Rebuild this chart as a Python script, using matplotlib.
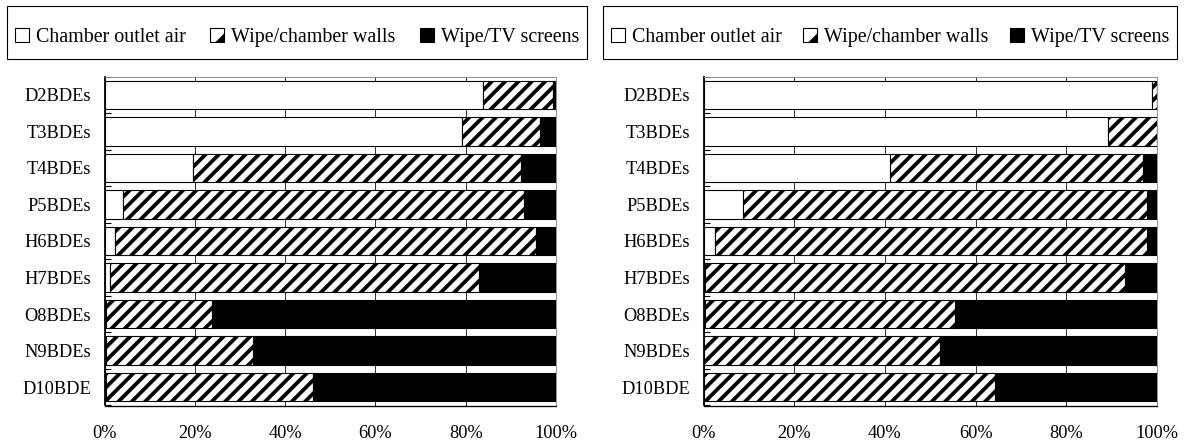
import numpy as np
import matplotlib.pyplot as plt
from matplotlib.patches import Patch, Rectangle, Polygon
from matplotlib.legend_handler import HandlerBase

plt.rcParams['font.family'] = ['Liberation Serif', 'DejaVu Serif']
plt.rcParams['hatch.linewidth'] = 3.4
plt.rcParams['hatch.color'] = 'black'

# データ (%)
categories = ['D2BDEs', 'T3BDEs', 'T4BDEs', 'P5BDEs', 'H6BDEs',
              'H7BDEs', 'O8BDEs', 'N9BDEs', 'D10BDE']
series_names = ['Chamber outlet air', 'Wipe/chamber walls', 'Wipe/TV screens']

left_air = [83.9, 79.2, 19.6, 4.2, 2.4, 1.3, 0.3, 0.3, 0.3]
left_walls = [15.4, 17.2, 72.6, 88.7, 93.2, 81.7, 23.4, 32.5, 45.9]
left_tv = [0.7, 3.6, 7.8, 7.1, 4.4, 17.0, 76.3, 67.2, 53.8]

right_air = [98.8, 89.2, 41.1, 8.8, 2.6, 0.4, 0.3, 0.2, 0.2]
right_walls = [1.2, 10.8, 55.8, 89.0, 95.2, 92.5, 55.1, 51.9, 64.1]
right_tv = [0.0, 0.0, 3.1, 2.2, 2.2, 7.1, 44.6, 47.9, 35.7]

xticks = [0, 20, 40, 60, 80, 100]
xticklabels = ['0%', '20%', '40%', '60%', '80%', '100%']

DPI = 80
W, H = 1185, 445
fig = plt.figure(figsize=(W / DPI, H / DPI), dpi=DPI)


# 凡例の斜線マーカー（小さい四角で縞の位相がずれるので自前で描く）
class HatchSquareHandler(HandlerBase):
    def create_artists(self, legend, orig_handle, xdescent, ydescent,
                       width, height, fontsize, trans):
        x0, y0 = -xdescent, -ydescent
        sq = Rectangle((x0, y0), width, height, facecolor='white',
                       edgecolor='black', linewidth=1.0, transform=trans)
        tri = Polygon([(x0 + width * 0.35, y0), (x0 + width, y0),
                       (x0 + width, y0 + height * 0.65)],
                      closed=True, facecolor='black', edgecolor='black',
                      linewidth=0.5, transform=trans)
        return [sq, tri]


def draw_panel(rect, air, walls, tv, legend_rect):
    ax = fig.add_axes(rect)
    y = np.arange(len(categories))
    air = np.array(air); walls = np.array(walls); tv = np.array(tv)
    kw = dict(height=0.78, edgecolor='black', linewidth=1.0, zorder=3)
    ax.barh(y, air, color='white', **kw)
    ax.barh(y, walls, left=air, color='white', hatch='//', **kw)
    ax.barh(y, tv, left=air + walls, color='black', **kw)

    ax.set_xlim(0, 100)
    ax.set_ylim(len(categories) - 0.5, -0.5)
    ax.set_xticks(xticks)
    ax.set_xticklabels(xticklabels, fontsize=16.5)
    ax.set_yticks(y)
    ax.set_yticklabels(categories, fontsize=16.5)
    ax.set_yticks(np.arange(len(categories) + 1) - 0.5, minor=True)
    ax.tick_params(axis='x', length=0, pad=18)
    ax.tick_params(axis='y', which='major', length=0, pad=12)
    ax.tick_params(axis='y', which='minor', direction='in', length=5, width=1)
    ax.xaxis.grid(True, color='#333333', linewidth=0.9, zorder=0)
    ax.set_axisbelow(True)
    for s in ['top', 'right']:
        ax.spines[s].set_color('#888888')
    ax.spines['left'].set_linewidth(1.6)
    ax.spines['bottom'].set_linewidth(1.2)

    hatch_handle = Patch(facecolor='white', edgecolor='black')
    handles = [Patch(facecolor='white', edgecolor='black', linewidth=1.0),
               hatch_handle,
               Patch(facecolor='black', edgecolor='black', linewidth=1.0)]
    lx, ly, lw, lh = legend_rect
    fig.legend(handles, series_names, loc='center',
               bbox_to_anchor=(lx, ly - 5 / H, lw, lh), mode='expand', ncol=3,
               fontsize=18, frameon=False,
               handlelength=0.7, handleheight=0.7, handletextpad=0.35,
               borderaxespad=0, borderpad=0.4, columnspacing=1.0,
               handler_map={hatch_handle: HatchSquareHandler()})
    fig.patches.append(Rectangle((lx, ly), lw, lh,
                                 transform=fig.transFigure, fill=False,
                                 edgecolor='black', linewidth=1.0))
    return ax


def fx(px):
    return px / W


def fy(py):
    return 1 - py / H


draw_panel([fx(104.5), fy(405.5), fx(556) - fx(104.5), fy(76.5) - fy(405.5)],
           left_air, left_walls, left_tv,
           (fx(7), fy(59), fx(587) - fx(7), fy(6) - fy(59)))
draw_panel([fx(703.5), fy(405.5), fx(1157) - fx(703.5), fy(76.5) - fy(405.5)],
           right_air, right_walls, right_tv,
           (fx(603), fy(59), fx(1177) - fx(603), fy(6) - fy(59)))

fig.savefig('out.png', dpi=DPI)
